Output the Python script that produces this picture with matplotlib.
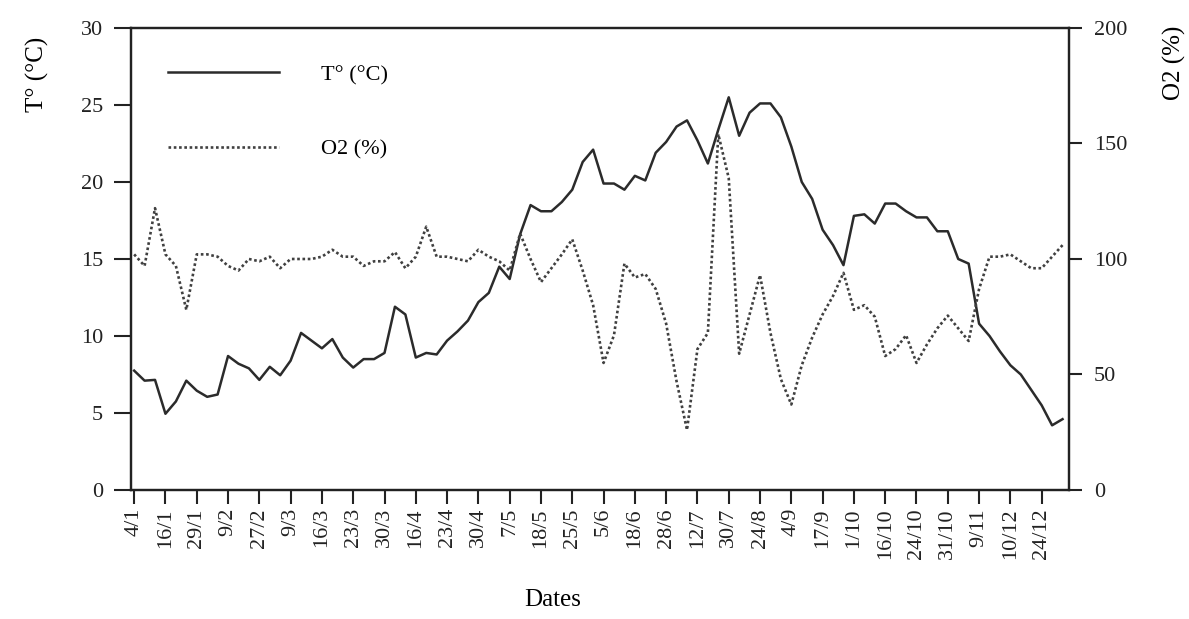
import numpy as np
import matplotlib
matplotlib.use('Agg')
import matplotlib.pyplot as plt

# data (one point per sampling date, label every 3rd)
date_labels = ['4/1', '16/1', '29/1', '9/2', '27/2', '9/3', '16/3', '23/3', '30/3', '16/4',
               '23/4', '30/4', '7/5', '18/5', '25/5', '5/6', '18/6', '28/6', '12/7', '30/7',
               '24/8', '4/9', '17/9', '1/10', '16/10', '24/10', '31/10', '9/11', '10/12', '24/12']

temp = [7.75, 7.1, 7.15, 4.95, 5.75, 7.1, 6.45, 6.05, 6.2, 8.7,
        8.2, 7.9, 7.15, 8.0, 7.45, 8.4, 10.2, 9.7, 9.2, 9.8,
        8.6, 7.95, 8.5, 8.5, 8.9, 11.9, 11.4, 8.6, 8.9, 8.8,
        9.7, 10.3, 11.0, 12.2, 12.8, 14.5, 13.7, 16.6, 18.5, 18.1,
        18.1, 18.7, 19.5, 21.3, 22.1, 19.9, 19.9, 19.5, 20.4, 20.1,
        21.9, 22.6, 23.6, 24.0, 22.7, 21.2, 23.4, 25.5, 23.0, 24.5,
        25.1, 25.1, 24.2, 22.3, 20.0, 18.9, 16.9, 15.9, 14.6, 17.8,
        17.9, 17.3, 18.6, 18.6, 18.1, 17.7, 17.7, 16.8, 16.8, 15.0,
        14.7, 10.8, 10.0, 9.0, 8.1, 7.5, 6.5, 5.5, 4.2, 4.6]

o2 = [102, 97, 122, 102, 97, 78, 102, 102, 101, 97,
      95, 100, 99, 101, 96, 100, 100, 100, 101, 104,
      101, 101, 97, 99, 99, 103, 96, 101, 114, 101,
      101, 100, 99, 104, 101, 99, 95, 111, 100, 90,
      96, 102, 108.5, 95, 80, 55, 67, 98, 92, 93.5,
      87, 72, 47, 26, 61, 68, 154, 135, 59, 76,
      93, 68, 48, 37, 54, 66, 76, 84, 94, 78,
      80, 75, 58, 61, 67, 55, 63, 70, 75.5, 70,
      64.5, 87, 101, 101, 102, 99, 96, 96, 101, 106]

plt.rcParams['font.family'] = ['Liberation Serif', 'DejaVu Serif']
plt.rcParams['font.size'] = 16

fig = plt.figure(figsize=(11.89, 6.19), dpi=100)
ax = fig.add_axes([0.1102, 0.2084, 0.7887, 0.7464])
ax2 = ax.twinx()

x = np.arange(len(temp))
l1, = ax.plot(x, temp, color='#2b2b2b', lw=1.8, label='T° (°C)')
l2, = ax2.plot(x, o2, color='#404040', lw=1.9, ls=(0, (1, 1)), label='O2 (%)')

ax.set_xlim(-0.3, 89.6)
ax.set_ylim(0, 30)
ax.set_yticks(range(0, 31, 5))
ax2.set_ylim(0, 200)
ax2.set_yticks(range(0, 201, 50))
ax.set_xticks(x[::3])
ax.set_xticklabels(date_labels, rotation=90)

for a in (ax, ax2):
    for s in a.spines.values():
        s.set_linewidth(1.6)
        s.set_color('#222222')
ax.tick_params(axis='y', direction='out', length=12, width=1.5, pad=8, colors='#222222', labelsize=16)
ax.tick_params(axis='x', direction='out', length=10, width=1.5, pad=3, colors='#222222', labelsize=16)
ax2.tick_params(axis='y', direction='out', length=9, width=1.5, pad=9, colors='#222222', labelsize=16)

ax.set_ylabel('T° (°C)', fontsize=18)
ax.yaxis.set_label_coords(-0.0875, 0.90)
ax2.set_ylabel('O2 (%)', fontsize=18)
ax2.yaxis.set_label_coords(1.100, 0.925)
ax.set_xlabel('Dates', fontsize=18)
ax.xaxis.set_label_coords(0.45, -0.214)

ax2.legend(handles=[l1, l2], loc='upper left', bbox_to_anchor=(0.0394, 0.9205),
           frameon=False, handlelength=5.0, handletextpad=1.9, labelspacing=2.42,
           borderpad=0, borderaxespad=0, fontsize=16)

fig.savefig('out.png', dpi=100)
